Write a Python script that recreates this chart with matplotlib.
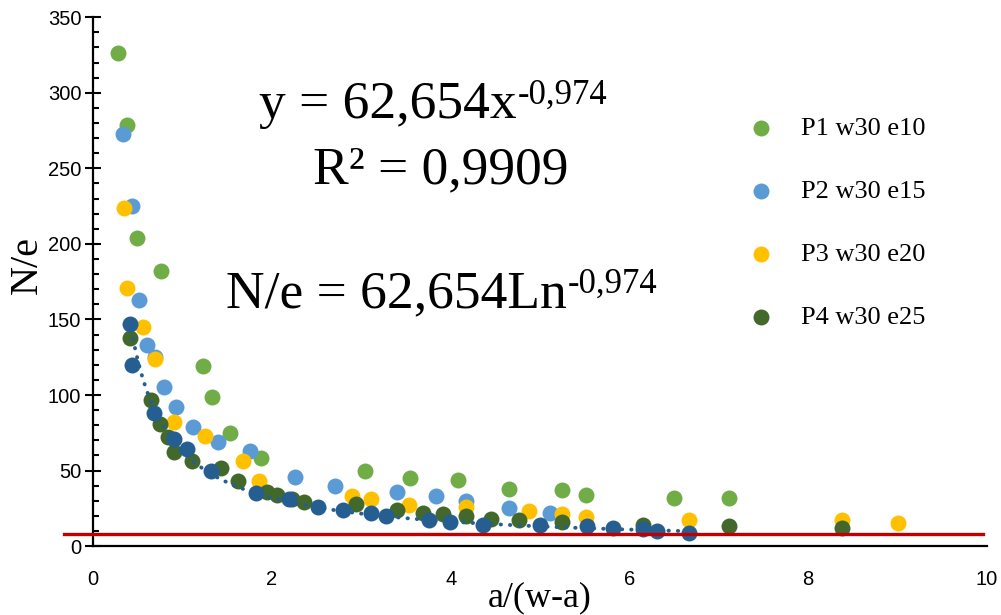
import matplotlib
matplotlib.use("Agg")
from matplotlib import pyplot as plt
from matplotlib.ticker import MultipleLocator
import numpy as np

## data
p1_x = [0.28, 0.38, 0.49, 0.76, 1.23, 1.33, 1.53, 1.88, 3.04, 3.55, 4.08, 4.65, 5.25, 5.51, 6.50, 7.11]
p1_y = [326, 279, 204, 182, 119, 99, 75, 58, 50, 45, 44, 38, 37, 34, 32, 32]

p2_x = [0.34, 0.44, 0.51, 0.60, 0.69, 0.79, 0.93, 1.12, 1.40, 1.75, 2.26, 2.71, 3.40, 3.84, 4.17, 4.65, 5.11]
p2_y = [273, 225, 163, 133, 125, 105, 92, 79, 69, 63, 46, 40, 36, 33, 30, 25, 22]

p3_x = [0.35, 0.38, 0.56, 0.69, 0.91, 1.25, 1.68, 1.86, 2.90, 3.11, 3.53, 4.17, 4.88, 5.25, 5.51, 6.67, 8.38, 9.00]
p3_y = [224, 171, 145, 124, 82, 73, 56, 43, 33, 31, 27, 26, 23, 21, 19, 17, 17, 15]

p4_x = [0.41, 0.65, 0.75, 0.84, 0.91, 1.11, 1.43, 1.62, 1.95, 2.06, 2.23, 2.36, 2.94, 3.40, 3.69, 3.91,
        4.17, 4.45, 4.77, 5.25, 6.15, 7.11, 8.38]
p4_y = [138, 97, 81, 72, 62, 56, 52, 43, 36, 34, 31, 29, 28, 24, 22, 21, 20, 18, 17, 16, 14, 13, 12]

p5_x = [0.41, 0.44, 0.68, 0.91, 1.05, 1.32, 1.82, 2.19, 2.52, 2.80, 3.11, 3.28, 3.76, 3.99, 4.36,
        5.00, 5.53, 5.82, 6.15, 6.31, 6.67]
p5_y = [147, 120, 88, 71, 64, 50, 35, 31, 26, 24, 22, 20, 17, 16, 14, 14, 13, 12, 11, 10, 9]

fit_a = 62.654
fit_b = -0.974
red_x = [-0.32, 9.96]
red_y = [7.8, 7.8]

## plotting
fig = plt.figure(figsize=(10.01, 6.15), dpi=100)
ax = fig.add_axes([0.093, 0.112, 0.893, 0.86])

s = 132
ax.scatter(p1_x, p1_y, s=s, color='#70AD47', label='P1 w30 e10', zorder=3, linewidths=0)
ax.scatter(p2_x, p2_y, s=s, color='#5B9BD5', label='P2 w30 e15', zorder=3, linewidths=0)
ax.scatter(p3_x, p3_y, s=s, color='#FFC000', label='P3 w30 e20', zorder=3, linewidths=0)
ax.scatter(p4_x, p4_y, s=s, color='#43682B', label='P4 w30 e25', zorder=3, linewidths=0)
ax.scatter(p5_x, p5_y, s=s, color='#255E91', label='_nolegend_', zorder=3, linewidths=0)

# power trendline on the last series
tx = np.linspace(min(p5_x), max(p5_x), 300)
ax.plot(tx, fit_a * tx ** fit_b, color='#255E91', lw=2.8, linestyle=(0, (0.1, 2.3)),
        dash_capstyle='round', zorder=4)

ax.plot(red_x, red_y, color='#C00000', lw=2.4, zorder=5, clip_on=False)

ax.set_xlim(0, 10)
ax.set_ylim(0, 350)
ax.xaxis.set_major_locator(MultipleLocator(2))
ax.yaxis.set_major_locator(MultipleLocator(50))
ax.yaxis.set_minor_locator(MultipleLocator(10))

for sp in ['top', 'right']:
    ax.spines[sp].set_visible(False)
for sp in ['left', 'bottom']:
    ax.spines[sp].set_linewidth(1.6)

ax.tick_params(axis='x', length=0, pad=17, labelsize=14.5)
ax.tick_params(axis='y', which='major', direction='inout', length=11, width=1.5, pad=3, labelsize=14.5)
ax.tick_params(axis='y', which='minor', direction='in', length=4.5, width=1.5)
for lab in ax.get_xticklabels() + ax.get_yticklabels():
    lab.set_family('Liberation Sans')

ax.text(0.5, -0.098, 'a/(w-a)', transform=ax.transAxes, family='Liberation Serif',
        fontsize=26, ha='center', va='center')
ax.text(-0.073, 0.531, 'N/e', transform=ax.transAxes, family='Liberation Serif',
        fontsize=29, ha='center', va='center', rotation=90)

# equation texts, superscripts hung off the right edge of the main text
main_kw = dict(family='Liberation Serif', fontsize=38.5, va='baseline')
sup_kw = dict(family='Liberation Serif', fontsize=25, ha='left', va='top')
t1 = ax.text(4.74, 283, 'y = 62,654x', ha='right', **main_kw)
ax.annotate('-0,974', xy=(1.0, 1.0), xycoords=t1, xytext=(1, 2), textcoords='offset points', **sup_kw)
ax.text(3.89, 240, 'R² = 0,9909', ha='center', **main_kw)
t3 = ax.text(5.30, 158, 'N/e = 62,654Ln', ha='right', **main_kw)
ax.annotate('-0,974', xy=(1.0, 1.0), xycoords=t3, xytext=(1, 2), textcoords='offset points', **sup_kw)

leg = ax.legend(loc='upper left', bbox_to_anchor=(0.6915, 0.857), frameon=False,
                prop={'family': 'Liberation Serif', 'size': 19}, labelspacing=1.5,
                handletextpad=0.5, borderpad=0.4)

plt.savefig('out.png', dpi=100)
